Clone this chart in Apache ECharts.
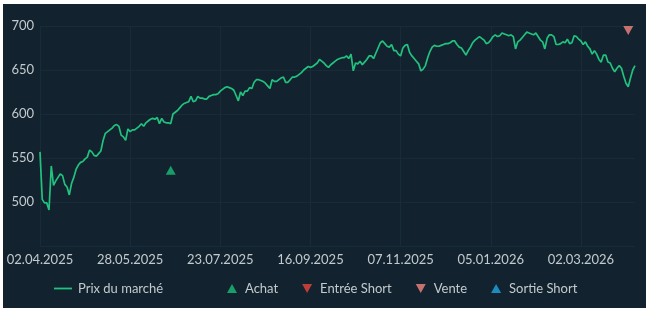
<!DOCTYPE html>
<html>
<head>
<meta charset="utf-8">
<script src="https://cdn.jsdelivr.net/npm/echarts@6/dist/echarts.min.js"></script>
<style>
html,body{margin:0;padding:0;background:#ffffff;width:650px;height:311px;overflow:hidden;}
#c{position:absolute;left:3px;top:4px;width:643px;height:304px;background:#12232f;}
</style>
</head>
<body>
<div id="c"></div>
<script>
// X tick labels (one every 40 trading days)
const tickLabels = ['02.04.2025','28.05.2025','23.07.2025','16.09.2025','07.11.2025','05.01.2026','02.03.2026'];
const tickStep = 40;

// Market price (one value per trading day)
const prices = [
557,503,499,499,491,541,519,524,528,532,
530,520,517,508,521,528,537,542,545,546,
549,551,559,557,553,552,555,558,570,578,
580,582,584,587,588,586,576,574,570,583,
580,582,582,584,586,589,586,590,592,594,
595,594,596,589,595,591,590,590,589,600,
602,604,607,610,612,613,614,620,614,615,
620,618,618,617,617,620,621,622,622,623,
626,628,630,631,630,629,627,621,615,625,
621,626,626,630,629,636,639,639,638,637,
635,632,629,639,637,637,639,641,642,636,
636,639,642,642,643,645,647,650,652,654,
653,654,656,658,662,660,658,655,653,656,
658,660,662,663,664,664,666,663,668,649,
658,657,660,656,659,662,666,666,663,669,
675,681,683,680,677,676,679,672,672,668,
666,675,678,679,670,666,663,660,657,649,
651,655,664,671,676,678,677,677,678,679,
680,680,681,683,683,679,676,675,671,667,
672,676,681,684,686,688,686,684,680,681,
684,688,690,688,689,692,691,690,689,690,
688,674,682,684,687,690,693,692,691,690,
692,688,684,682,674,686,690,690,688,679,
679,680,682,681,685,680,681,689,688,685,
683,679,682,677,674,668,672,668,662,659,
667,667,659,658,652,648,652,655,652,643,
635,631,641,650,655
];

// Signals: [trading-day index, price level]
const buySignals = [[58, 536]];
const sellSignals = [[261, 695]];
const shortEntrySignals = [];
const shortExitSignals = [];

const categories = prices.map((_, i) => String(i));
const downTri = 'path://M0,0 L10,0 L5,9 Z';
const upTri = 'path://M5,0 L10,9 L0,9 Z';
const textColor = '#c3cacf';
const gridColor = '#192b37';
const font = 'Lato';

const chart = echarts.init(document.getElementById('c'), null, {renderer: 'canvas'});
chart.setOption({
  backgroundColor: '#12232f',
  animation: false,
  textStyle: {fontFamily: font},
  grid: {left: 37, right: 11, top: 22, bottom: 62, containLabel: false},
  xAxis: {
    type: 'category',
    data: categories,
    boundaryGap: false,
    axisLine: {show: false},
    axisTick: {show: false},
    axisLabel: {
      interval: tickStep - 1,
      color: textColor,
      fontSize: 13,
      fontFamily: font,
      margin: 7,
      formatter: (v, i) => tickLabels[Math.round(i / tickStep)] || ''
    },
    splitLine: {show: true, interval: tickStep - 1, lineStyle: {color: gridColor, width: 1}}
  },
  yAxis: {
    type: 'value',
    min: 450, max: 700, interval: 50,
    axisLine: {show: false},
    axisTick: {show: false},
    axisLabel: {color: textColor, fontSize: 13, fontFamily: font, margin: 6, showMinLabel: false},
    splitLine: {show: true, lineStyle: {color: gridColor, width: 1}}
  },
  legend: [
    {
      left: 46, top: 273,
      itemWidth: 18, itemHeight: 10, itemGap: 10,
      textStyle: {color: textColor, fontSize: 13, fontFamily: font, padding: [0,0,0,1]},
      data: [{name: 'Prix du marché', icon: 'path://M0,4 L20,4 L20,6 L0,6 Z'}]
    },
    {
      left: 219, top: 273,
      itemWidth: 10, itemHeight: 9, itemGap: 24,
      textStyle: {color: textColor, fontSize: 13, fontFamily: font, padding: [0,0,0,3]},
      data: [
        {name: 'Achat', icon: upTri},
        {name: 'Entrée Short', icon: downTri},
        {name: 'Vente', icon: downTri},
        {name: 'Sortie Short', icon: upTri}
      ]
    }
  ],
  series: [
    {
      name: 'Prix du marché', type: 'line', data: prices,
      showSymbol: false, symbol: 'none',
      lineStyle: {color: '#22c27e', width: 1.7},
      itemStyle: {color: '#22c27e'}
    },
    {name: 'Achat', type: 'scatter', data: buySignals, symbol: upTri, symbolSize: [10, 9], itemStyle: {color: '#1cbb78'}},
    {name: 'Entrée Short', type: 'scatter', data: shortEntrySignals, symbol: downTri, symbolSize: [10, 9], itemStyle: {color: '#e8433b'}},
    {name: 'Vente', type: 'scatter', data: sellSignals, symbol: downTri, symbolSize: [10, 9], itemStyle: {color: '#f4857f'}},
    {name: 'Sortie Short', type: 'scatter', data: shortExitSignals, symbol: upTri, symbolSize: [10, 9], itemStyle: {color: '#1fa6e3'}}
  ]
});
</script>
</body>
</html>
